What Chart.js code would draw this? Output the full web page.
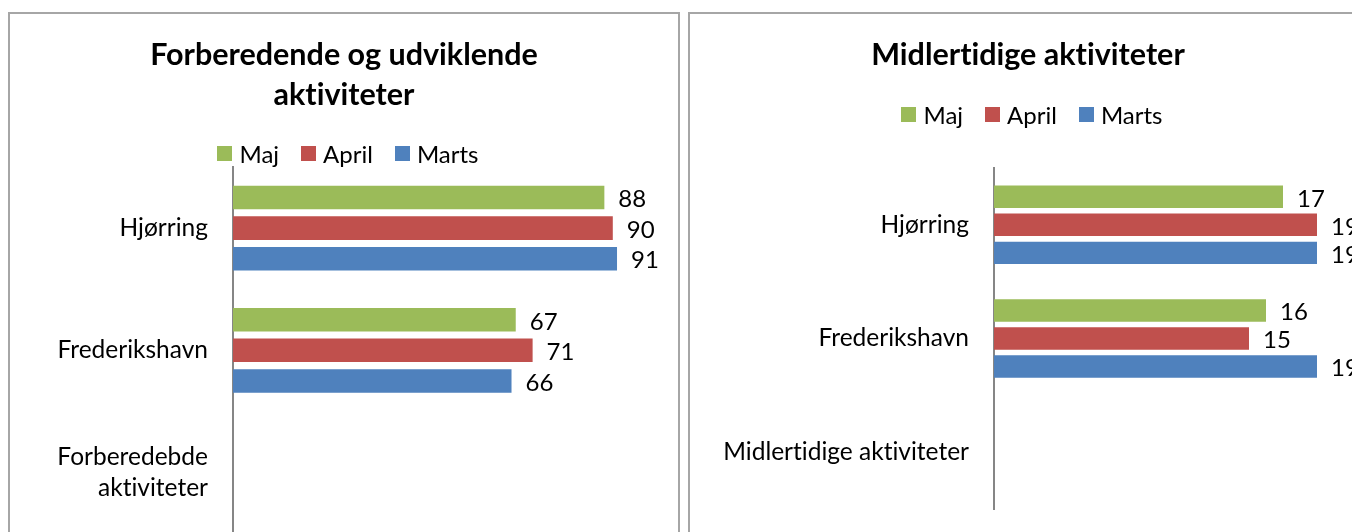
<!DOCTYPE html>
<html lang="da">
<head>
    <meta charset="utf-8">
    <title>Aktiviteter</title>
    <script src="https://cdn.jsdelivr.net/npm/chart.js"></script>
    <style>
        body {
            margin: 0;
            width: 1352px;
            height: 532px;
            overflow: hidden;
            background: #ffffff;
            position: relative;
            font-family: 'Lato', sans-serif;
        }
        .chart-box {
            position: absolute;
            top: 12px;
            height: 600px;
            box-sizing: border-box;
            border: 2px solid #a6a6a6;
            background: #ffffff;
        }
        #boxLeft { left: 8px; width: 672px; }
        #boxRight { left: 688px; width: 680px; }
        .chart-box canvas { position: absolute; left: 0; top: 0; }
        .custom-legend {
            position: absolute;
            left: 0;
            right: 0;
            display: flex;
            justify-content: center;
            gap: 22px;
            font-size: 24px;
            color: #000;
            padding-left: 8px;
        }
        .legend-item { display: flex; align-items: center; }
        .legend-color { width: 15px; height: 15px; margin-right: 7px; }
    </style>
</head>
<body>
    <div class="chart-box" id="boxLeft">
        <canvas id="chartLeft" width="668" height="560"></canvas>
        <div class="custom-legend" id="legendLeft" style="top:125px"></div>
    </div>
    <div class="chart-box" id="boxRight">
        <canvas id="chartRight" width="676" height="560"></canvas>
        <div class="custom-legend" id="legendRight" style="top:86px"></div>
    </div>

    <script>
        // data
        const seriesNames = ['Maj', 'April', 'Marts'];
        const seriesColors = ['#9bbb59', '#c0504d', '#4f81bd'];

        const categoriesLeft = ['Hjørring', 'Frederikshavn', ['Forberedebde', 'aktiviteter']];
        const majLeft = [88, 67, null];
        const aprilLeft = [90, 71, null];
        const martsLeft = [91, 66, null];

        const categoriesRight = ['Hjørring', 'Frederikshavn', 'Midlertidige aktiviteter'];
        const majRight = [17, 16, null];
        const aprilRight = [19, 15, null];
        const martsRight = [19, 19, null];

        // ingen ligaturer (Lato tegner "ti" sammen)
        const noLigatures = {
            id: 'noLigatures',
            beforeDraw(chart) { chart.ctx.textRendering = 'optimizeSpeed'; }
        };

        // værdier ved enden af søjlerne
        const valueLabels = {
            id: 'valueLabels',
            afterDatasetsDraw(chart) {
                const c = chart.ctx;
                c.save();
                c.font = '24px Lato';
                c.fillStyle = '#000';
                c.textAlign = 'left';
                c.textBaseline = 'middle';
                chart.data.datasets.forEach((ds, i) => {
                    chart.getDatasetMeta(i).data.forEach((bar, j) => {
                        if (ds.data[j] == null) return;
                        c.fillText(String(ds.data[j]), bar.x + 14, bar.y + 2);
                    });
                });
                c.restore();
            }
        };

        function makeChart(id, title, titleBottom, labels, values, xMax, axisWidth, side, padBottom, catPct, barPct) {
            return new Chart(document.getElementById(id), {
                type: 'bar',
                data: {
                    labels: labels,
                    datasets: seriesNames.map((name, i) => ({
                        label: name,
                        data: values[i],
                        backgroundColor: seriesColors[i],
                        categoryPercentage: catPct,
                        barPercentage: barPct
                    }))
                },
                options: {
                    indexAxis: 'y',
                    responsive: false,
                    animation: false,
                    layout: { padding: { left: side, right: side, bottom: padBottom, top: 0 } },
                    plugins: {
                        legend: { display: false },
                        tooltip: { enabled: false },
                        title: {
                            display: true,
                            text: title,
                            color: '#000',
                            font: { family: 'Lato', size: 30.5, weight: 'bold', lineHeight: '40px' },
                            padding: { top: 21, bottom: titleBottom }
                        }
                    },
                    scales: {
                        x: { display: false, min: 0, max: xMax },
                        y: {
                            grid: { display: false, drawTicks: false },
                            border: { display: true, color: '#868686', width: 2 },
                            ticks: {
                                color: '#000',
                                padding: 25,
                                font: { family: 'Lato', size: 24.5, lineHeight: 1.25 }
                            },
                            afterFit(scale) { scale.width = axisWidth; }
                        }
                    }
                },
                plugins: [noLigatures, valueLabels]
            });
        }

        makeChart('chartLeft', ['Forberedende og udviklende', 'aktiviteter'], 52,
            categoriesLeft, [majLeft, aprilLeft, martsLeft], 100, 200, 23, 35, 0.75, 0.77);
        makeChart('chartRight', 'Midlertidige aktiviteter', 93,
            categoriesRight, [majRight, aprilRight, martsRight], 20, 272, 32, 65, 0.74, 0.8);

        // forklaring
        ['legendLeft', 'legendRight'].forEach(id => {
            const box = document.getElementById(id);
            seriesNames.forEach((name, i) => {
                const item = document.createElement('div');
                item.className = 'legend-item';
                item.innerHTML = `<div class="legend-color" style="background:${seriesColors[i]};"></div><span>${name}</span>`;
                box.appendChild(item);
            });
        });
    </script>
</body>
</html>
